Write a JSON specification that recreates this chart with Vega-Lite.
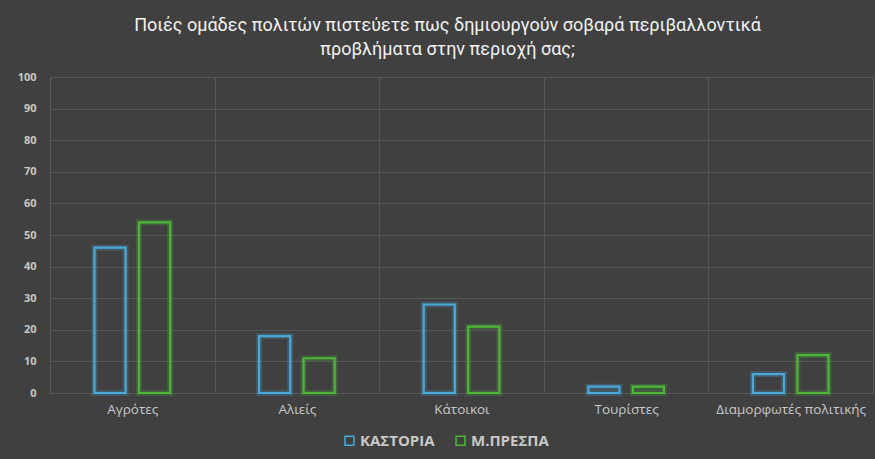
{
  "$schema": "https://vega.github.io/schema/vega-lite/v6.json",
  "width": 823,
  "height": 316,
  "autosize": {"type": "none"},
  "padding": {"left": 50, "top": 77, "right": 2, "bottom": 66},
  "background": "#404040",
  "title": {
    "text": ["Ποιές ομάδες πολιτών πιστεύετε πως δημιουργούν σοβαρά περιβαλλοντικά", "προβλήματα στην περιοχή σας;"],
    "font": "Roboto",
    "fontSize": 18,
    "fontWeight": "normal",
    "color": "#f2f2f2",
    "anchor": "middle",
    "lineHeight": 24,
    "offset": 12,
    "dx": -14
  },
  "config": {
    "view": {"stroke": null},
    "font": "Open Sans"
  },
  "data": {
    "values": [
      {"cat": "Αγρότες", "series": "ΚΑΣΤΟΡΙΑ", "value": 46},
      {"cat": "Αγρότες", "series": "Μ.ΠΡΕΣΠΑ", "value": 54},
      {"cat": "Αλιείς", "series": "ΚΑΣΤΟΡΙΑ", "value": 18},
      {"cat": "Αλιείς", "series": "Μ.ΠΡΕΣΠΑ", "value": 11},
      {"cat": "Κάτοικοι", "series": "ΚΑΣΤΟΡΙΑ", "value": 28},
      {"cat": "Κάτοικοι", "series": "Μ.ΠΡΕΣΠΑ", "value": 21},
      {"cat": "Τουρίστες", "series": "ΚΑΣΤΟΡΙΑ", "value": 2},
      {"cat": "Τουρίστες", "series": "Μ.ΠΡΕΣΠΑ", "value": 2},
      {"cat": "Διαμορφωτές πολιτικής", "series": "ΚΑΣΤΟΡΙΑ", "value": 6},
      {"cat": "Διαμορφωτές πολιτικής", "series": "Μ.ΠΡΕΣΠΑ", "value": 12}
    ]
  },
  "encoding": {
    "x": {
      "field": "cat", "type": "nominal", "sort": null,
      "scale": {"paddingInner": 0, "paddingOuter": 0},
      "axis": {
        "title": null, "tickBand": "extent", "grid": true, "gridColor": "#575757", "gridWidth": 1,
        "domain": false, "ticks": false, "labelAngle": 0, "labelColor": "#c8c8c8",
        "labelFontSize": 13.5, "labelFont": "Open Sans", "labelPadding": 9
      }
    },
    "xOffset": {
      "field": "series", "type": "nominal",
      "scale": {"paddingInner": 0.3, "paddingOuter": 1.25}
    },
    "y": {
      "field": "value", "type": "quantitative",
      "scale": {"domain": [0, 100]},
      "axis": {
        "title": null, "values": [0,10,20,30,40,50,60,70,80,90,100], "grid": true, "gridColor": "#575757",
        "domain": false, "ticks": false, "labelColor": "#c8c8c8", "labelFontSize": 11,
        "labelFontWeight": "bold", "labelFont": "Open Sans", "labelPadding": 14
      }
    },
    "stroke": {
      "field": "series", "type": "nominal",
      "scale": {"domain": ["ΚΑΣΤΟΡΙΑ", "Μ.ΠΡΕΣΠΑ"], "range": ["#4aa9d8", "#4db638"]},
      "legend": {
        "orient": "none", "legendX": 292, "legendY": 356, "direction": "horizontal", "title": null, "symbolType": "square",
        "symbolSize": 80, "symbolStrokeWidth": 1.5, "labelFontSize": 15, "labelFontWeight": "bold",
        "labelColor": "#c8c8c8", "labelFont": "Open Sans", "columnPadding": 18, "labelOffset": 3
      }
    }
  },
  "layer": [
    {"mark": {"type": "bar", "filled": false, "strokeWidth": 6, "strokeOpacity": 0.25}},
    {"mark": {"type": "bar", "filled": false, "strokeWidth": 2.2}}
  ]
}
